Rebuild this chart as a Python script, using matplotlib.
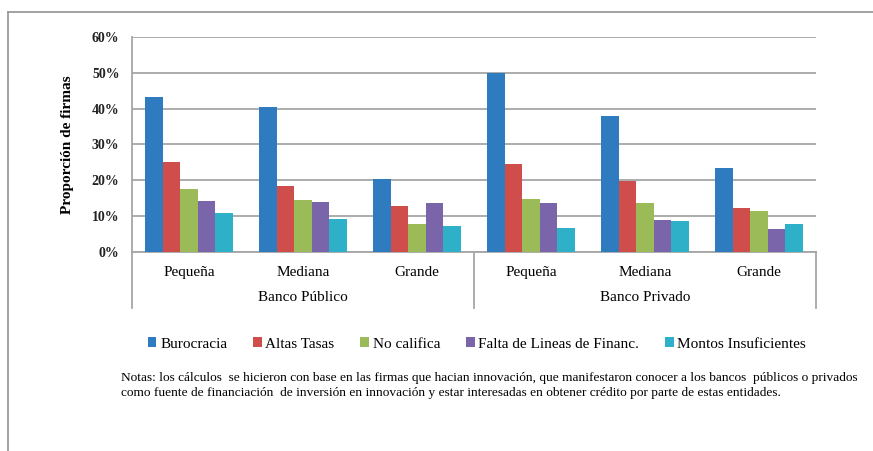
import numpy as np
import matplotlib
matplotlib.use('Agg')
import matplotlib.pyplot as plt
from matplotlib.patches import Patch
from matplotlib.lines import Line2D

# Data (proportion of firms, %)
tamanos = ['Pequeña', 'Mediana', 'Grande', 'Pequeña', 'Mediana', 'Grande']
bancos = ['Banco Público', 'Banco Privado']
series = ['Burocracia', 'Altas Tasas', 'No califica', 'Falta de Lineas de Financ.', 'Montos Insuficientes']

burocracia = [43.2, 40.5, 20.3, 50.0, 37.8, 23.5]
altas_tasas = [25.1, 18.4, 12.8, 24.4, 19.7, 12.1]
no_califica = [17.5, 14.4, 7.8, 14.8, 13.5, 11.4]
falta_lineas = [14.1, 14.0, 13.7, 13.5, 8.9, 6.3]
montos = [10.9, 9.1, 7.2, 6.7, 8.6, 7.7]

colores = ['#2F7BC0', '#CF4D4A', '#9BBB59', '#7A65AA', '#2DB0C8']

plt.rcParams['font.family'] = 'Liberation Serif'

fig = plt.figure(figsize=(8.73, 4.51), dpi=100)
ax = fig.add_axes([132 / 873, 1 - 251.7 / 451, 684 / 873, 214.7 / 451])

valores = [burocracia, altas_tasas, no_califica, falta_lineas, montos]
x = np.arange(len(tamanos))
w = 0.1535
for i, (nombre, vals) in enumerate(zip(series, valores)):
    ax.bar(x + (i - 2) * w, vals, width=w, color=colores[i], label=nombre, zorder=3)

ax.set_xlim(-0.5, 5.5)
ax.set_ylim(0, 60)
ax.set_yticks(range(0, 61, 10))
ax.set_yticklabels(['%d%%' % v for v in range(0, 61, 10)], fontsize=10, fontweight='bold', color='#222222')
ax.tick_params(axis='y', length=0, pad=9)
ax.set_xticks([])
ax.grid(axis='y', color='#A6A6A6', linewidth=1.3, zorder=0)
for s in ['top', 'right']:
    ax.spines[s].set_visible(False)
for s in ['left', 'bottom']:
    ax.spines[s].set_color('#A6A6A6')
    ax.spines[s].set_linewidth(1.3)

ax.set_ylabel('Proporción de firmas', fontsize=11, fontweight='bold', labelpad=13)

# multi-level category axis
trans = ax.get_xaxis_transform()
for xv in [-0.5, 2.5, 5.5]:
    ax.plot([xv, xv], [0, -0.262], transform=trans, color='#A6A6A6', lw=1.3, clip_on=False)
for xv, t in zip(x, tamanos):
    ax.text(xv, -0.095, t, transform=trans, ha='center', va='center', fontsize=11)
for xv, t in zip([1, 4], bancos):
    ax.text(xv, -0.215, t, transform=trans, ha='center', va='center', fontsize=11)

# legend
handles = [Patch(facecolor=c, edgecolor='none') for c in colores]
fig.legend(handles, series, loc='center', bbox_to_anchor=(477 / 873, 1 - 344 / 451), ncol=5,
           frameon=False, fontsize=11, handlelength=0.55, handleheight=0.55,
           handletextpad=0.25, columnspacing=1.7)

# notes
fig.text(121 / 873, 1 - 378 / 451,
         'Notas: los cálculos  se hicieron con base en las firmas que hacian innovación, que manifestaron conocer a los bancos  públicos o privados',
         fontsize=9.6, va='center')
fig.text(121 / 873, 1 - 393 / 451,
         'como fuente de financiación  de inversión en innovación y estar interesadas en obtener crédito por parte de estas entidades.',
         fontsize=9.6, va='center')

# outer frame (top and left edges)
fig.add_artist(Line2D([8 / 873, 1], [1 - 12 / 451, 1 - 12 / 451], transform=fig.transFigure, color='#9A9A9A', lw=1.3))
fig.add_artist(Line2D([8 / 873, 8 / 873], [0, 1 - 12 / 451], transform=fig.transFigure, color='#9A9A9A', lw=1.3))

fig.savefig('out.png', dpi=100)
